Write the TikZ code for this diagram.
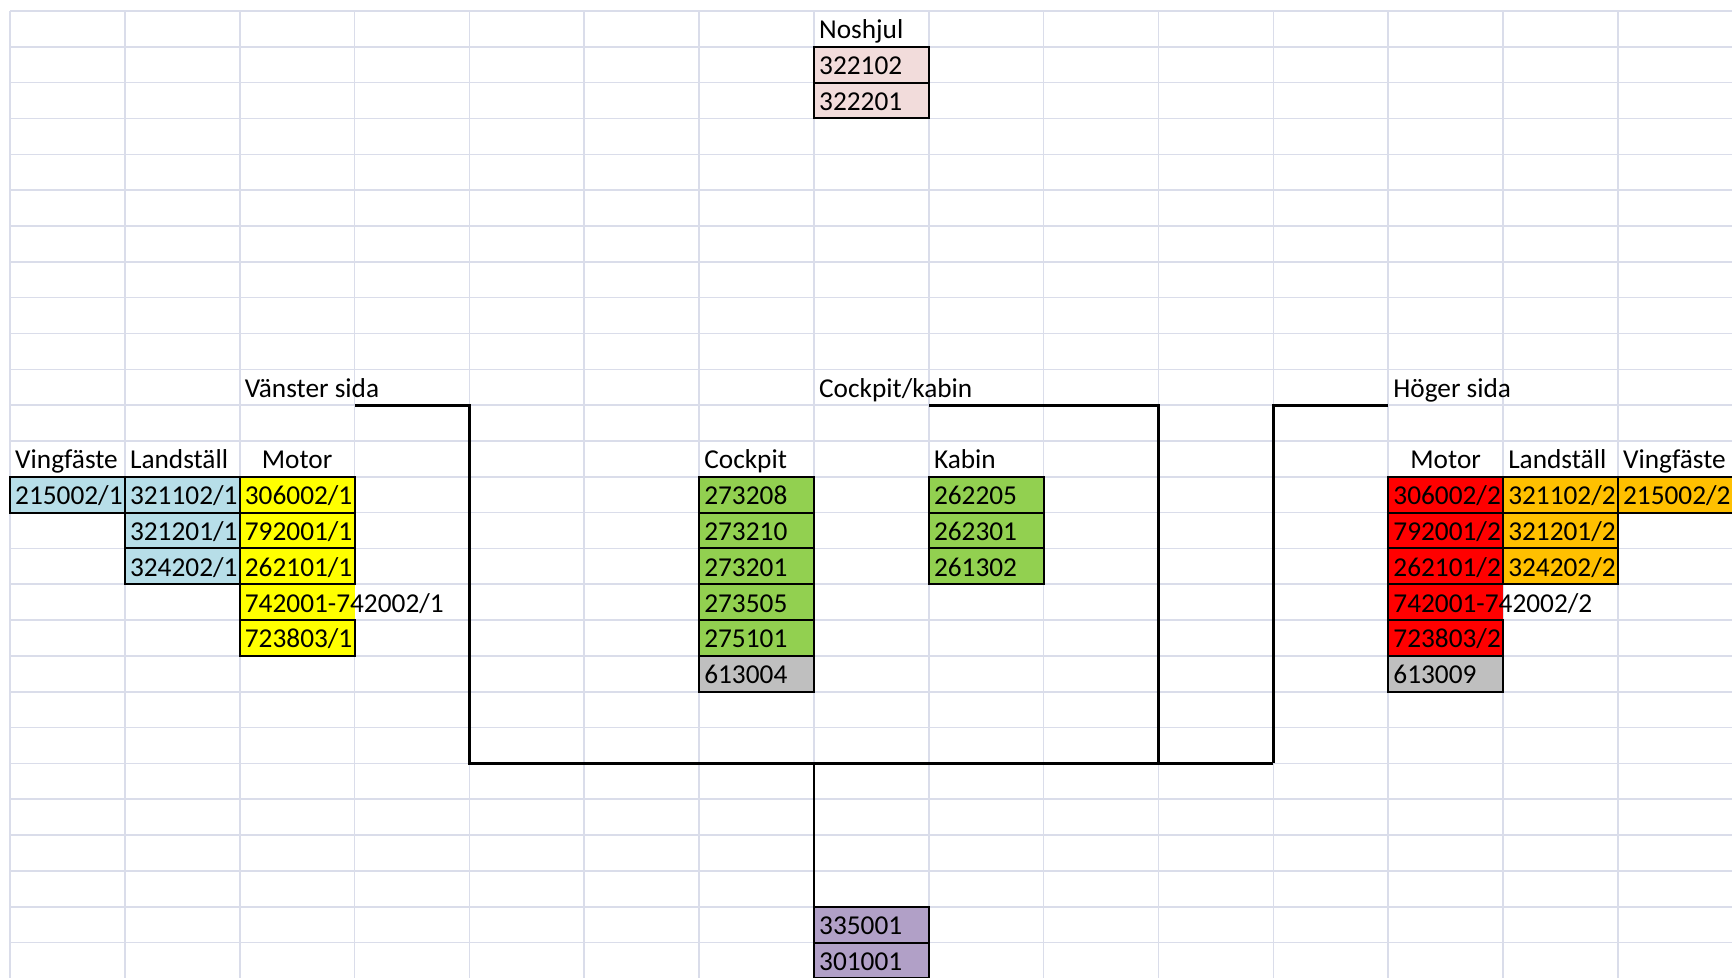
\documentclass[tikz,border=0pt]{standalone}
\usepackage{fontspec}
\setmainfont{Carlito}
\definecolor{gridc}{RGB}{218,221,234}
\definecolor{cblue}{RGB}{183,222,232}
\definecolor{cyellow}{RGB}{255,255,0}
\definecolor{cgreen}{RGB}{146,208,80}
\definecolor{cgray}{RGB}{191,191,191}
\definecolor{cred}{RGB}{255,0,0}
\definecolor{corange}{RGB}{255,192,0}
\definecolor{cpink}{RGB}{242,220,219}
\definecolor{cpurple}{RGB}{177,160,199}

% sheet geometry (1 unit = 1px = 0.5pt)
\def\CW{114.85}
\def\RH{35.83}

\tikzset{
  gridline/.style={draw=gridc, line width=0.8pt},
  cellbox/.style={rectangle, draw=black, line width=1pt, inner sep=0pt, outer sep=0pt,
    minimum width=57.425pt, minimum height=17.915pt},
  fillbox/.style={rectangle, inner sep=0pt, outer sep=0pt,
    minimum width=57.425pt, minimum height=17.915pt},
  celltext/.style={anchor=base west, inner sep=0pt, outer sep=0pt,
    font=\fontsize{13.65}{15}\selectfont},
  headtext/.style={celltext},
  conn/.style={draw=black, line width=1.4pt, line join=miter},
}

% framed coloured cell: name, column, row, colour, text
\newcommand\gcell[5]{%
  \node[cellbox, fill=#4] (#1) at ({10+\CW*(#2+0.5)},{11+\RH*(#3+0.5)}) {};
  \node[celltext] (#1t) at ([xshift=2.6pt,yshift=4pt]#1.south west) {#5};
}
% coloured cell whose text runs on into the empty cell to its right
\newcommand\ocell[5]{%
  \node[fillbox, fill=#4] (#1) at ({10+\CW*(#2+0.5)},{11+\RH*(#3+0.5)}) {};
  \draw[black, line width=1pt] (#1.north east) -- (#1.north west) -- (#1.south west) -- (#1.south east);
  \node[celltext] (#1t) at ([xshift=2.6pt,yshift=4pt]#1.south west) {#5};
}
% plain header text: name, column, row, text
\newcommand\htext[4]{%
  \node[headtext] (#1) at ({10+\CW*(#2)+5.2},{11+\RH*(#3+1)-8}) {#4};
}
% centred header text: name, column, row, text
\newcommand\ctext[4]{%
  \node[headtext, anchor=base] (#1) at ({10+\CW*(#2+0.5)},{11+\RH*(#3+1)-8}) {#4};
}

\begin{document}
\begin{tikzpicture}[x=0.5pt, y=-0.5pt]
\useasboundingbox[fill=white] (0,0) rectangle (1732,978);

% worksheet grid
\foreach \i in {0,...,14} \draw[gridline] ({10+\CW*\i},11) -- ({10+\CW*\i},978);
\foreach \j in {0,...,26} \draw[gridline] (10,{11+\RH*\j}) -- (1732,{11+\RH*\j});

% nose wheel
\htext{hNos}{7}{0}{Noshjul}
\gcell{n1}{7}{1}{cpink}{322102}
\gcell{n2}{7}{2}{cpink}{322201}

% section titles
\htext{hVS}{2}{10}{Vänster sida}
\htext{hCK}{7}{10}{Cockpit/kabin}
\htext{hHS}{12}{10}{Höger sida}

% column headers
\htext{hV1}{0}{12}{Vingfäste}
\htext{hL1}{1}{12}{Landställ}
\ctext{hM1}{2}{12}{Motor}
\htext{hCo}{6}{12}{Cockpit}
\htext{hKa}{8}{12}{Kabin}
\ctext{hM2}{12}{12}{Motor}
\htext{hL2}{13}{12}{Landställ}
\htext{hV2}{14}{12}{Vingfäste}

% left side
\gcell{v1}{0}{13}{cblue}{215002/1}
\gcell{l1}{1}{13}{cblue}{321102/1}
\gcell{l2}{1}{14}{cblue}{321201/1}
\gcell{l3}{1}{15}{cblue}{324202/1}
\gcell{m1}{2}{13}{cyellow}{306002/1}
\gcell{m2}{2}{14}{cyellow}{792001/1}
\gcell{m3}{2}{15}{cyellow}{262101/1}
\ocell{m4}{2}{16}{cyellow}{742001-742002/1}
\gcell{m5}{2}{17}{cyellow}{723803/1}

% cockpit
\gcell{c1}{6}{13}{cgreen}{273208}
\gcell{c2}{6}{14}{cgreen}{273210}
\gcell{c3}{6}{15}{cgreen}{273201}
\gcell{c4}{6}{16}{cgreen}{273505}
\gcell{c5}{6}{17}{cgreen}{275101}
\gcell{c6}{6}{18}{cgray}{613004}

% cabin
\gcell{k1}{8}{13}{cgreen}{262205}
\gcell{k2}{8}{14}{cgreen}{262301}
\gcell{k3}{8}{15}{cgreen}{261302}

% right side
\gcell{r1}{12}{13}{cred}{306002/2}
\gcell{r2}{12}{14}{cred}{792001/2}
\gcell{r3}{12}{15}{cred}{262101/2}
\ocell{r4}{12}{16}{cred}{742001-742002/2}
\gcell{r5}{12}{17}{cred}{723803/2}
\gcell{r6}{12}{18}{cgray}{613009}
\gcell{s1}{13}{13}{corange}{321102/2}
\gcell{s2}{13}{14}{corange}{321201/2}
\gcell{s3}{13}{15}{corange}{324202/2}
\gcell{w2}{14}{13}{corange}{215002/2}

% fuselage
\gcell{p1}{7}{25}{cpurple}{335001}
\gcell{p2}{7}{26}{cpurple}{301001}

% connector corners
\coordinate (lA) at ({10+\CW*3},{11+\RH*11});
\coordinate (lB) at ({10+\CW*4},{11+\RH*11});
\coordinate (lC) at ({10+\CW*4},{11+\RH*21});
\coordinate (mA) at ({10+\CW*8},{11+\RH*11});
\coordinate (mB) at ({10+\CW*10},{11+\RH*11});
\coordinate (mC) at ({10+\CW*10},{11+\RH*21});
\coordinate (rA) at ({10+\CW*12},{11+\RH*11});
\coordinate (rB) at ({10+\CW*11},{11+\RH*11});
\coordinate (rC) at ({10+\CW*11},{11+\RH*21});
\coordinate (tJ) at ({10+\CW*7},{11+\RH*21});

\draw[conn] (lA) -- (lB) -- (lC) -- (rC);
\draw[conn] (mA) -- (mB) -- (mC);
\draw[conn] (rA) -- (rB) -- (rC);
\draw[conn] (tJ) -- (p1.north west);
\end{tikzpicture}
\end{document}
